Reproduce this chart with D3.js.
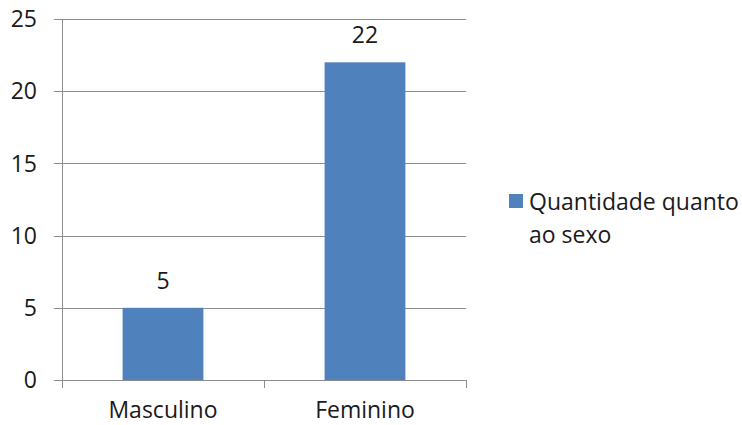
<!DOCTYPE html>
<html>
<head>
<meta charset="utf-8">
<script src="https://cdn.jsdelivr.net/npm/d3@7"></script>
<style>
  html, body { margin: 0; padding: 0; background: #fff; }
  svg text { font-family: "Open Sans", "Noto Sans", sans-serif; fill: #1a1a1a; }
</style>
</head>
<body>
<svg id="chart" width="742" height="425"></svg>
<script>
// Data
const categories = ["Masculino", "Feminino"];
const values = [5, 22];
const yTicks = [0, 5, 10, 15, 20, 25];
const seriesName = ["Quantidade quanto", "ao sexo"];

const svg = d3.select("#chart");
const plot = { left: 62, right: 466, top: 19, bottom: 380 };
const fontSize = 23;

const x = d3.scaleBand()
  .domain(categories)
  .range([plot.left, plot.right])
  .paddingInner(0.6)
  .paddingOuter(0.3);

const y = d3.scaleLinear()
  .domain([0, 25])
  .range([plot.bottom, plot.top]);

// Horizontal gridlines with tick stubs to the left of the axis
svg.append("g")
  .selectAll("line")
  .data(yTicks)
  .join("line")
  .attr("x1", plot.left - 8)
  .attr("x2", plot.right)
  .attr("y1", d => Math.round(y(d)) + 0.5)
  .attr("y2", d => Math.round(y(d)) + 0.5)
  .attr("stroke", "#8c8c8c")
  .attr("stroke-width", 1);

// Y axis labels
svg.append("g")
  .selectAll("text")
  .data(yTicks)
  .join("text")
  .attr("x", 37)
  .attr("y", d => y(d))
  .attr("dy", "0.36em")
  .attr("text-anchor", "end")
  .attr("font-size", fontSize)
  .text(d => d);

// Bars
svg.append("g")
  .selectAll("rect")
  .data(values)
  .join("rect")
  .attr("x", (d, i) => x(categories[i]))
  .attr("width", x.bandwidth())
  .attr("y", d => y(d))
  .attr("height", d => y(0) - y(d))
  .attr("fill", "#4f81bd");

// Value labels above bars
svg.append("g")
  .selectAll("text")
  .data(values)
  .join("text")
  .attr("x", (d, i) => x(categories[i]) + x.bandwidth() / 2)
  .attr("y", d => y(d) - 19)
  .attr("text-anchor", "middle")
  .attr("font-size", fontSize)
  .text(d => d);

// Y axis line
svg.append("line")
  .attr("x1", plot.left + 0.5).attr("x2", plot.left + 0.5)
  .attr("y1", plot.top).attr("y2", plot.bottom + 8)
  .attr("stroke", "#8c8c8c");

// X axis tick marks at category boundaries
const boundaries = d3.range(categories.length + 1).map(i => plot.left + i * (plot.right - plot.left) / categories.length);
svg.append("g")
  .selectAll("line")
  .data(boundaries)
  .join("line")
  .attr("x1", d => Math.round(d) + 0.5)
  .attr("x2", d => Math.round(d) + 0.5)
  .attr("y1", plot.bottom)
  .attr("y2", plot.bottom + 8)
  .attr("stroke", "#8c8c8c");

// Category labels
svg.append("g")
  .selectAll("text")
  .data(categories)
  .join("text")
  .attr("x", d => x(d) + x.bandwidth() / 2)
  .attr("y", 418)
  .attr("text-anchor", "middle")
  .attr("font-size", fontSize)
  .text(d => d);

// Legend
const legend = svg.append("g");
legend.append("rect")
  .attr("x", 509).attr("y", 194)
  .attr("width", 14).attr("height", 14)
  .attr("fill", "#4f81bd");
legend.append("text")
  .attr("x", 529)
  .attr("font-size", fontSize)
  .selectAll("tspan")
  .data(seriesName)
  .join("tspan")
  .attr("x", 529)
  .attr("y", (d, i) => 210 + i * 33)
  .text(d => d);
</script>
</body>
</html>
